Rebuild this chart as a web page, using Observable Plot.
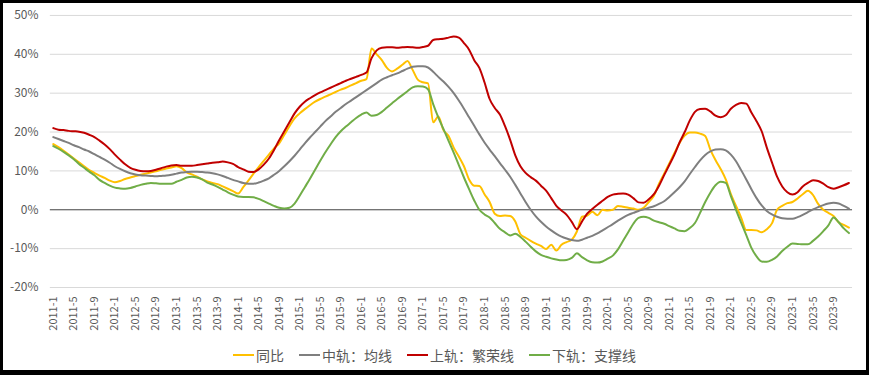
<!DOCTYPE html>
<html><head><meta charset="utf-8">
<script src="https://cdn.jsdelivr.net/npm/d3@7"></script>
<script src="https://cdn.jsdelivr.net/npm/@observablehq/plot@0.6"></script>
<style>
body{margin:0;background:#fff;}
#frame{position:relative;width:869px;height:375px;box-sizing:border-box;border:3px solid #000;border-bottom-width:5px;overflow:hidden;background:#fff;font-family:"Noto Sans CJK SC",sans-serif;}
#chart{position:absolute;left:-3px;top:-3px;}
#legend{position:absolute;left:-3px;width:869px;top:343px;display:flex;justify-content:center;gap:15px;font-size:14px;line-height:18px;color:#595959;}
.item{display:flex;align-items:center;}
.sw{width:21px;height:2px;margin-right:2px;}
</style></head>
<body>
<div id="frame"><div id="chart"></div><div id="legend"></div></div>
<script>
const startYear = 2011;
const monthCount = 156;
const names = ["同比", "中轨：均线", "上轨：繁荣线", "下轨：支撑线"];
const colors = ["#FFC000", "#7F7F7F", "#C00000", "#70AD47"];
const yTicks = [-20, -10, 0, 10, 20, 30, 40, 50];

const yoy = [16.9,16.1,15.2,14.2,13.2,12.2,11.2,10.2,9.5,8.8,
8.2,7.5,7.1,7.4,7.9,8.3,8.7,9.0,9.3,9.6,
9.9,10.3,10.6,10.9,11.2,10.7,9.6,9.1,8.5,7.8,
7.3,6.9,6.6,6.0,5.4,4.8,4.2,5.8,7.5,9.3,
11.0,12.6,14.2,15.8,17.1,19.3,21.5,23.5,24.8,25.9,
26.9,27.8,28.5,29.1,29.7,30.3,30.9,31.4,32.0,32.6,
33.2,33.6,41.5,40.0,38.5,36.5,35.6,36.3,37.3,38.3,
36.0,33.5,32.8,32.5,22.5,24.0,20.5,19.0,16.0,13.7,
11.2,7.8,6.2,6.1,4.0,2.0,-1.0,-1.6,-1.5,-1.6,
-3.0,-6.3,-7.2,-8.0,-8.7,-9.3,-10.1,-9.0,-10.5,-9.0,
-8.3,-7.7,-5.6,-1.8,-1.5,-0.5,-1.4,0.0,-0.2,0.0,
1.0,0.8,0.5,0.3,0.0,0.5,2.0,3.6,6.7,9.3,
11.9,14.6,17.2,19.1,19.9,19.9,19.6,19.0,15.5,12.8,
10.5,7.8,4.0,1.0,-2.0,-5.2,-5.2,-5.3,-5.8,-5.0,
-3.5,0.0,1.0,1.7,2.0,2.9,4.0,4.9,3.8,1.5,
0.0,-0.8,-1.6,-3.2,-3.9,-4.6];

const mid = [18.7,18.2,17.7,17.2,16.6,16.1,15.5,15.0,14.3,13.6,
12.9,12.1,11.2,10.5,9.9,9.4,9.1,8.9,8.8,8.7,
8.6,8.7,8.8,9.0,9.3,9.6,9.7,9.8,9.8,9.7,
9.6,9.4,9.1,8.7,8.2,7.7,7.3,6.9,6.7,6.7,
7.0,7.5,8.1,9.0,10.0,11.2,12.5,13.9,15.5,17.1,
18.6,20.0,21.4,22.8,24.0,25.2,26.2,27.2,28.1,29.0,
29.9,30.8,31.7,32.6,33.5,34.1,34.6,35.1,35.7,36.3,
36.8,36.9,36.9,36.6,35.5,34.2,33.0,31.6,30.0,28.1,
26.0,23.8,21.6,19.4,17.3,15.5,13.8,12.0,10.3,8.5,
6.4,4.2,2.0,0.0,-1.7,-3.1,-4.3,-5.3,-6.2,-6.9,
-7.4,-7.8,-8.0,-7.7,-7.2,-6.7,-6.1,-5.3,-4.5,-3.7,
-2.8,-2.0,-1.3,-0.8,-0.3,0.1,0.5,0.9,1.5,2.2,
3.3,4.5,5.8,7.3,9.2,11.0,12.7,14.1,15.0,15.5,
15.6,15.3,14.2,12.5,10.2,7.8,5.3,3.0,1.1,-0.3,
-1.2,-1.8,-2.2,-2.3,-2.3,-1.9,-1.3,-0.6,0.1,0.7,
1.2,1.6,1.8,1.6,1.0,0.3];

const upper = [21.0,20.6,20.5,20.3,20.2,20.1,19.8,19.3,18.7,17.8,
16.8,15.6,14.2,12.9,11.7,10.8,10.3,10.0,9.9,10.0,
10.3,10.7,11.1,11.4,11.5,11.3,11.3,11.3,11.5,11.7,
11.9,12.1,12.2,12.4,12.2,11.8,11.0,10.4,9.8,9.7,
10.4,11.6,13.2,15.4,17.9,20.2,22.5,24.8,26.5,27.8,
28.7,29.5,30.2,30.8,31.4,32.0,32.6,33.2,33.7,34.2,
34.7,35.3,39.0,41.0,41.7,41.8,41.8,41.7,41.8,41.9,
41.8,41.7,41.9,42.2,43.7,43.9,44.0,44.3,44.6,44.3,
42.9,41.2,38.5,36.5,32.8,28.5,26.2,24.5,21.5,18.0,
14.0,11.2,9.5,8.4,7.5,6.2,4.9,3.0,1.0,-0.2,
-1.3,-3.1,-5.0,-3.0,-1.0,0.2,1.3,2.3,3.3,3.9,
4.1,4.2,3.9,3.0,1.9,1.8,2.7,4.0,6.2,8.9,
11.5,14.2,17.3,20.0,23.0,25.2,25.9,26.0,25.3,24.2,
23.8,24.3,26.0,27.0,27.5,27.3,25.0,22.8,20.2,16.0,
12.2,8.5,6.0,4.5,3.9,4.5,6.0,6.9,7.6,7.4,
6.7,5.8,5.4,5.8,6.3,6.9];

const lower = [16.4,15.7,14.9,14.0,13.0,11.8,10.8,9.8,8.9,7.7,
6.9,6.2,5.7,5.5,5.4,5.6,6.0,6.4,6.7,6.9,
6.8,6.7,6.7,6.7,7.2,7.7,8.3,8.5,8.3,7.8,
7.0,6.5,5.9,5.2,4.5,3.9,3.4,3.3,3.3,3.2,
2.8,2.2,1.6,1.0,0.5,0.3,0.5,1.6,3.6,5.8,
8.0,10.3,12.6,14.8,16.8,18.7,20.2,21.4,22.5,23.6,
24.5,25.0,24.2,24.4,25.2,26.3,27.4,28.5,29.5,30.5,
31.5,31.8,31.7,31.0,27.2,23.8,20.8,17.7,14.7,11.5,
8.3,5.3,2.4,0.0,-1.2,-2.0,-3.4,-4.9,-5.8,-6.6,
-6.2,-7.0,-8.2,-9.5,-10.7,-11.6,-12.1,-12.5,-12.8,-13.0,
-12.9,-12.4,-11.2,-12.2,-13.0,-13.5,-13.6,-13.3,-12.6,-11.8,
-10.2,-8.0,-5.8,-3.6,-2.1,-1.8,-2.1,-2.8,-3.2,-3.6,
-4.2,-4.8,-5.4,-5.5,-4.7,-3.4,-0.8,2.0,4.4,6.3,
7.2,6.9,3.5,0.0,-3.3,-6.5,-9.8,-12.0,-13.3,-13.4,
-12.9,-12.0,-10.6,-9.5,-8.7,-8.8,-8.9,-8.9,-8.0,-6.9,
-5.5,-4.0,-2.0,-3.2,-4.8,-6.0];

const months = d3.range(monthCount).map(i => `${startYear + Math.floor(i / 12)}-${i % 12 + 1}`);
const seriesValues = [yoy, mid, upper, lower];
const rows = [];
seriesValues.forEach((vals, k) => vals.forEach((v, i) => rows.push({i, v, s: names[k]})));

const chart = Plot.plot({
  width: 869, height: 345,
  marginLeft: 50, marginRight: 14, marginTop: 15, marginBottom: 57,
  style: {fontFamily: "'Noto Sans CJK SC', sans-serif", background: "transparent"},
  x: {domain: [-0.58, 155.7], axis: null},
  y: {domain: [-20, 50], axis: null},
  color: {domain: names, range: colors},
  marks: [
    Plot.ruleY(yTicks.filter(d => d !== 0), {stroke: "#d9d9d9", strokeWidth: 1}),
    Plot.ruleY([0], {stroke: "#404040", strokeWidth: 1}),
    Plot.axisY({ticks: yTicks, tickSize: 0, tickPadding: 12, tickFormat: d => d + "%", fontSize: 12, fill: "#595959", label: null}),
    Plot.axisX({ticks: d3.range(0, monthCount, 4), tickFormat: i => months[i], tickRotate: -90, tickSize: 0, tickPadding: 9, fontSize: 11, fill: "#595959", label: null}),
    Plot.line(rows, {x: "i", y: "v", z: "s", stroke: "s", strokeWidth: 2, curve: "monotone-x"})
  ]
});
document.getElementById("chart").appendChild(chart);

const legend = document.getElementById("legend");
names.forEach((n, k) => {
  const it = document.createElement("div");
  it.className = "item";
  const sw = document.createElement("span");
  sw.className = "sw";
  sw.style.background = colors[k];
  const t = document.createElement("span");
  t.textContent = n;
  it.appendChild(sw); it.appendChild(t);
  legend.appendChild(it);
});
</script>
</body></html>
